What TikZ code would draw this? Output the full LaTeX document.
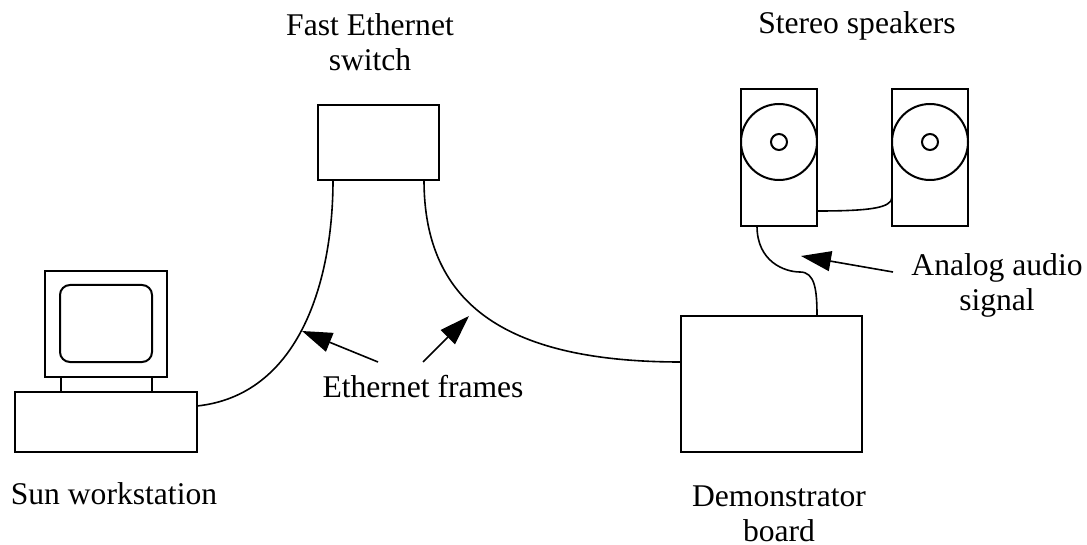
\documentclass[tikz,border=0pt]{standalone}
\usepackage{fontspec}
\setmainfont{Liberation Serif}
\usetikzlibrary{arrows.meta}
\tikzset{
  unit/.style={line width=1pt},
  cable/.style={line width=0.8pt},
  pointer/.style={line width=0.8pt,-{Triangle[length=15pt,width=10pt]}},
  caption/.style={align=center,anchor=base,inner sep=0pt,
    font=\fontsize{15.8}{17.5}\selectfont}
}
\begin{document}
\begin{tikzpicture}[x=0.5pt,y=-0.5pt]
    \useasboundingbox (0,0) rectangle (1087,545);
    % workstation: monitor, stand, base
    \draw[unit] (45,271) rectangle (167,377);
    \draw[unit,rounded corners=5pt] (60,285) rectangle (152,362);
    \draw[unit] (61,377) -- (61,392) (152,377) -- (152,392);
    \draw[unit] (15,392) rectangle (197,452);
    % switch and board
    \draw[unit] (318,105) rectangle (439,180);
    \draw[unit] (681,316) rectangle (862,452);
    % speakers
    \draw[unit] (741,89) rectangle (817,226);
    \draw[unit] (892,89) rectangle (968,226);
    \draw[unit] (779,142) circle (19pt) (779,142) circle (4pt);
    \draw[unit] (930,142) circle (19pt) (930,142) circle (4pt);
    \coordinate (W) at (197,406); \coordinate (S1) at (333,180);
    \coordinate (S2) at (424,180); \coordinate (D1) at (681,362);
    \coordinate (D2) at (817,316); \coordinate (L1) at (757,226);
    \coordinate (L2) at (817,211); \coordinate (R1) at (892,197);
    % cables
    \draw[cable] (W) .. controls (300,395) and (333,280) .. (S1);
    \draw[cable] (S2) .. controls (424,300) and (500,362) .. (D1);
    \draw[cable] (L1) .. controls (757,262) and (785,272) .. (800,272)
        .. controls (815,272) and (817,290) .. (D2);
    \draw[cable] (L2) .. controls (870,211) and (892,208) .. (R1);
    % arrows
    \coordinate (T1) at (378,362); \coordinate (H1) at (302,331);
    \coordinate (T2) at (423,362); \coordinate (H2) at (469,316);
    \coordinate (T3) at (893,272); \coordinate (H3) at (801,256);
    \draw[pointer] (T1) -- (H1); \draw[pointer] (T2) -- (H2);
    \draw[pointer] (T3) -- (H3);
    % labels (base = last line)
    \node[caption] (swlabel) at (370,71) {Fast Ethernet\\switch};
    \node[caption] (spklabel) at (857,34) {Stereo speakers};
    \node[caption] (framelabel) at (423,397) {Ethernet frames};
    \node[caption] (sunlabel) at (114,504) {Sun workstation};
    \node[caption] (audiolabel) at (997,311) {Analog audio\\signal};
    \node[caption] (boardlabel) at (779,541) {Demonstrator\\board};
\end{tikzpicture}
\end{document}
